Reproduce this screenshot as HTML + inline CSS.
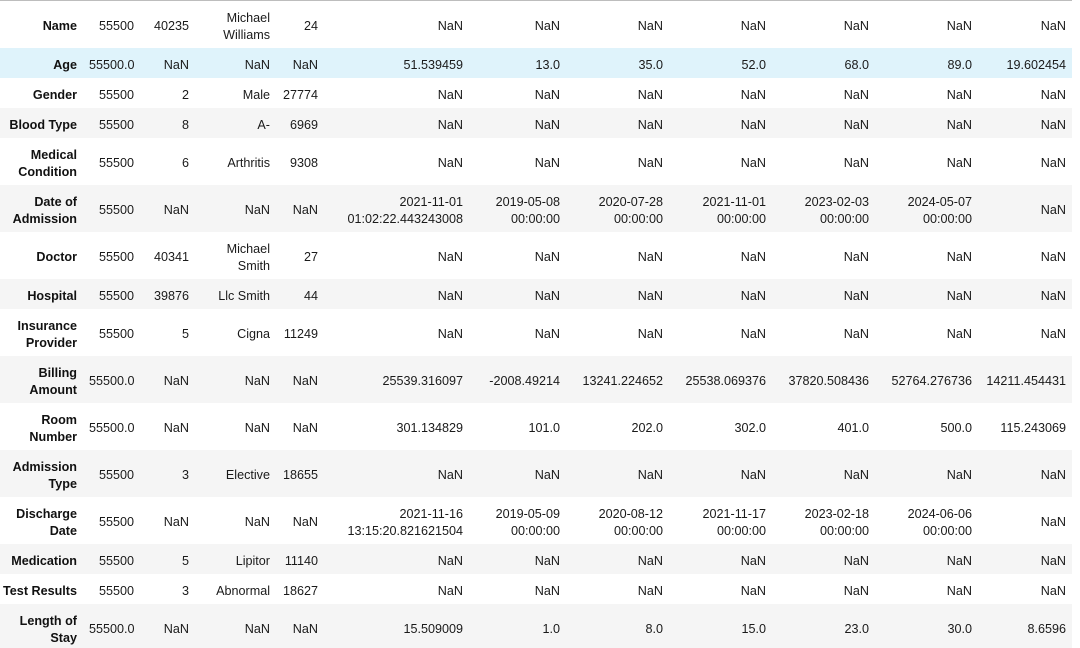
<!DOCTYPE html>
<html>
<head>
<meta charset="utf-8">
<style>
html,body{margin:0;padding:0;background:#fff;width:1080px;height:648px;overflow:hidden;position:relative;}
.topline{position:absolute;left:0;top:0;width:1072px;height:1px;background:#bdbdbd;}
.st{position:absolute;left:0;width:1072px;background:#f5f5f5;}
.hv{background:#dff3fb;}
table{position:absolute;left:0;top:1px;border-collapse:collapse;border-spacing:0;table-layout:fixed;width:1072px;
  font-family:"Liberation Sans",Arial,sans-serif;font-size:12.6px;color:#1a1a1a;background:transparent;}
td,th{padding:0 6px;line-height:17px;vertical-align:middle;text-align:right;white-space:nowrap;overflow:visible;position:relative;top:2px;background:transparent;}
th{font-weight:bold;color:#111;padding-left:0;}
tr.s td,tr.s th{height:30px;}
tr.d td,tr.d th{height:47px;}
</style>
</head>
<body>
<div class="topline"></div>
<div class="st hv" style="top:48px;height:30px"></div>
<div class="st" style="top:108px;height:30px"></div>
<div class="st" style="top:185px;height:47px"></div>
<div class="st" style="top:279px;height:30px"></div>
<div class="st" style="top:356px;height:47px"></div>
<div class="st" style="top:450px;height:47px"></div>
<div class="st" style="top:544px;height:30px"></div>
<div class="st" style="top:604px;height:44px"></div>
<table>
<colgroup>
<col style="width:83px"><col style="width:57px"><col style="width:55px"><col style="width:81px"><col style="width:48px">
<col style="width:145px"><col style="width:97px"><col style="width:103px"><col style="width:103px"><col style="width:103px"><col style="width:103px"><col style="width:94px">
</colgroup>
<tbody>
<tr class="d"><th>Name</th><td>55500</td><td>40235</td><td>Michael<br>Williams</td><td>24</td><td>NaN</td><td>NaN</td><td>NaN</td><td>NaN</td><td>NaN</td><td>NaN</td><td>NaN</td></tr>
<tr class="s"><th>Age</th><td>55500.0</td><td>NaN</td><td>NaN</td><td>NaN</td><td>51.539459</td><td>13.0</td><td>35.0</td><td>52.0</td><td>68.0</td><td>89.0</td><td>19.602454</td></tr>
<tr class="s"><th>Gender</th><td>55500</td><td>2</td><td>Male</td><td>27774</td><td>NaN</td><td>NaN</td><td>NaN</td><td>NaN</td><td>NaN</td><td>NaN</td><td>NaN</td></tr>
<tr class="s"><th>Blood Type</th><td>55500</td><td>8</td><td>A-</td><td>6969</td><td>NaN</td><td>NaN</td><td>NaN</td><td>NaN</td><td>NaN</td><td>NaN</td><td>NaN</td></tr>
<tr class="d"><th>Medical<br>Condition</th><td>55500</td><td>6</td><td>Arthritis</td><td>9308</td><td>NaN</td><td>NaN</td><td>NaN</td><td>NaN</td><td>NaN</td><td>NaN</td><td>NaN</td></tr>
<tr class="d"><th>Date of<br>Admission</th><td>55500</td><td>NaN</td><td>NaN</td><td>NaN</td><td>2021-11-01<br>01:02:22.443243008</td><td>2019-05-08<br>00:00:00</td><td>2020-07-28<br>00:00:00</td><td>2021-11-01<br>00:00:00</td><td>2023-02-03<br>00:00:00</td><td>2024-05-07<br>00:00:00</td><td>NaN</td></tr>
<tr class="d"><th>Doctor</th><td>55500</td><td>40341</td><td>Michael<br>Smith</td><td>27</td><td>NaN</td><td>NaN</td><td>NaN</td><td>NaN</td><td>NaN</td><td>NaN</td><td>NaN</td></tr>
<tr class="s"><th>Hospital</th><td>55500</td><td>39876</td><td>Llc Smith</td><td>44</td><td>NaN</td><td>NaN</td><td>NaN</td><td>NaN</td><td>NaN</td><td>NaN</td><td>NaN</td></tr>
<tr class="d"><th>Insurance<br>Provider</th><td>55500</td><td>5</td><td>Cigna</td><td>11249</td><td>NaN</td><td>NaN</td><td>NaN</td><td>NaN</td><td>NaN</td><td>NaN</td><td>NaN</td></tr>
<tr class="d"><th>Billing<br>Amount</th><td>55500.0</td><td>NaN</td><td>NaN</td><td>NaN</td><td>25539.316097</td><td>-2008.49214</td><td>13241.224652</td><td>25538.069376</td><td>37820.508436</td><td>52764.276736</td><td>14211.454431</td></tr>
<tr class="d"><th>Room<br>Number</th><td>55500.0</td><td>NaN</td><td>NaN</td><td>NaN</td><td>301.134829</td><td>101.0</td><td>202.0</td><td>302.0</td><td>401.0</td><td>500.0</td><td>115.243069</td></tr>
<tr class="d"><th>Admission<br>Type</th><td>55500</td><td>3</td><td>Elective</td><td>18655</td><td>NaN</td><td>NaN</td><td>NaN</td><td>NaN</td><td>NaN</td><td>NaN</td><td>NaN</td></tr>
<tr class="d"><th>Discharge<br>Date</th><td>55500</td><td>NaN</td><td>NaN</td><td>NaN</td><td>2021-11-16<br>13:15:20.821621504</td><td>2019-05-09<br>00:00:00</td><td>2020-08-12<br>00:00:00</td><td>2021-11-17<br>00:00:00</td><td>2023-02-18<br>00:00:00</td><td>2024-06-06<br>00:00:00</td><td>NaN</td></tr>
<tr class="s"><th>Medication</th><td>55500</td><td>5</td><td>Lipitor</td><td>11140</td><td>NaN</td><td>NaN</td><td>NaN</td><td>NaN</td><td>NaN</td><td>NaN</td><td>NaN</td></tr>
<tr class="s"><th>Test Results</th><td>55500</td><td>3</td><td>Abnormal</td><td>18627</td><td>NaN</td><td>NaN</td><td>NaN</td><td>NaN</td><td>NaN</td><td>NaN</td><td>NaN</td></tr>
<tr class="d"><th>Length of<br>Stay</th><td>55500.0</td><td>NaN</td><td>NaN</td><td>NaN</td><td>15.509009</td><td>1.0</td><td>8.0</td><td>15.0</td><td>23.0</td><td>30.0</td><td>8.6596</td></tr>
</tbody>
</table>
</body>
</html>
